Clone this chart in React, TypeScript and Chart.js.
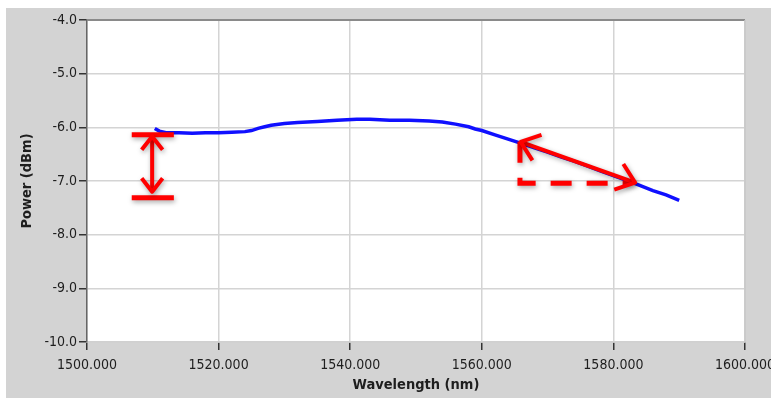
import React, { useEffect, useRef } from "react";
import { Chart, registerables } from "chart.js";

Chart.register(...registerables);

// Measured spectrum (wavelength nm, power dBm)
const wavelengths = [
  1510.3, 1511, 1512, 1514, 1516, 1518, 1520, 1522, 1524, 1525, 1526, 1527, 1528, 1530, 1532,
  1535, 1538, 1541, 1543, 1546, 1549, 1552, 1554, 1556, 1558, 1559, 1560, 1562, 1564, 1566,
  1568, 1570, 1572, 1574, 1576, 1578, 1580, 1582, 1584, 1586, 1588, 1590,
];
const powers = [
  -6.02, -6.07, -6.1, -6.1, -6.11, -6.1, -6.1, -6.09, -6.08, -6.06, -6.02, -5.99, -5.96, -5.93, -5.91,
  -5.89, -5.87, -5.85, -5.85, -5.87, -5.87, -5.88, -5.9, -5.94, -5.99, -6.03, -6.06, -6.14, -6.22, -6.3,
  -6.38, -6.46, -6.55, -6.63, -6.72, -6.81, -6.9, -6.99, -7.08, -7.18, -7.26, -7.36,
];

// Axis ticks
const xTicks = [1500, 1520, 1540, 1560, 1580, 1600];
const yTicks = [-10, -9, -8, -7, -6, -5, -4];

// Red annotations in data coordinates
const barLeft = 1506.8;
const barRight = 1513.2;
const barLevels = [-6.14, -7.31];
const vArrowX = 1509.9;
const vArrowEnds = [-6.17, -7.2];
const dashedPath = [
  [1565.8, -6.27],
  [1565.8, -7.04],
  [1582.6, -7.04],
];
const diagArrow = [
  [1565.9, -6.27],
  [1583.3, -7.03],
];

const FONT = "'DejaVu Sans Condensed', 'DejaVu Sans', sans-serif";

function arrowHead(ctx: CanvasRenderingContext2D, tx: number, ty: number, fx: number, fy: number, len: number) {
  const ang = Math.atan2(ty - fy, tx - fx);
  const spread = (38 * Math.PI) / 180;
  const a1 = ang + Math.PI - spread;
  const a2 = ang + Math.PI + spread;
  ctx.beginPath();
  ctx.moveTo(tx + Math.cos(a1) * len, ty + Math.sin(a1) * len);
  ctx.lineTo(tx, ty);
  ctx.lineTo(tx + Math.cos(a2) * len, ty + Math.sin(a2) * len);
  ctx.stroke();
}

const framePlugin = {
  id: "frame",
  beforeDraw(chart: any) {
    const { ctx, chartArea: a } = chart;
    ctx.save();
    ctx.fillStyle = "#ffffff";
    ctx.fillRect(a.left, a.top, a.right - a.left, a.bottom - a.top);
    ctx.restore();
  },
  afterDraw(chart: any) {
    const { ctx, chartArea: a } = chart;
    ctx.save();
    ctx.strokeStyle = "#8a8a8a";
    ctx.lineWidth = 2;
    ctx.beginPath();
    ctx.moveTo(a.left, a.top);
    ctx.lineTo(a.right, a.top);
    ctx.stroke();
    ctx.strokeStyle = "#c8c8c8";
    ctx.lineWidth = 1.5;
    ctx.beginPath();
    ctx.moveTo(a.right, a.top);
    ctx.lineTo(a.right, a.bottom);
    ctx.stroke();
    ctx.restore();
  },
};

const annotationPlugin = {
  id: "redMarks",
  afterDatasetsDraw(chart: any) {
    const { ctx } = chart;
    const xs = chart.scales.x;
    const ys = chart.scales.y;
    const px = (v: number) => xs.getPixelForValue(v);
    const py = (v: number) => ys.getPixelForValue(v);
    ctx.save();
    ctx.shadowColor = "rgba(0,0,0,0.35)";
    ctx.shadowBlur = 5;
    ctx.shadowOffsetX = 1;
    ctx.shadowOffsetY = 2;
    ctx.strokeStyle = "#ff0000";
    ctx.lineCap = "butt";
    ctx.lineJoin = "miter";

    // horizontal bars
    ctx.lineWidth = 5;
    for (const lv of barLevels) {
      ctx.beginPath();
      ctx.moveTo(px(barLeft), py(lv));
      ctx.lineTo(px(barRight), py(lv));
      ctx.stroke();
    }
    // vertical double arrow
    ctx.lineWidth = 4;
    const vx = px(vArrowX);
    const vy1 = py(vArrowEnds[0]);
    const vy2 = py(vArrowEnds[1]);
    ctx.beginPath();
    ctx.moveTo(vx, vy1 + 2);
    ctx.lineTo(vx, vy2 - 2);
    ctx.stroke();
    ctx.lineJoin = "round";
    arrowHead(ctx, vx, vy1, vx, vy2, 17);
    arrowHead(ctx, vx, vy2, vx, vy1, 17);

    // dashed L
    ctx.lineJoin = "miter";
    ctx.lineWidth = 5;
    ctx.setLineDash([21, 15]);
    ctx.beginPath();
    dashedPath.forEach(([x, y], i) => {
      if (i === 0) ctx.moveTo(px(x), py(y));
      else ctx.lineTo(px(x), py(y));
    });
    ctx.stroke();
    ctx.setLineDash([]);

    // diagonal double arrow
    ctx.lineWidth = 4;
    const [d1, d2] = diagArrow;
    const x1 = px(d1[0]), y1 = py(d1[1]), x2 = px(d2[0]), y2 = py(d2[1]);
    ctx.beginPath();
    ctx.moveTo(x1, y1);
    ctx.lineTo(x2, y2);
    ctx.stroke();
    ctx.lineJoin = "round";
    arrowHead(ctx, x1, y1, x2, y2, 22);
    arrowHead(ctx, x2, y2, x1, y1, 22);
    ctx.restore();
  },
};

export default function App() {
  const ref = useRef<HTMLCanvasElement>(null);
  useEffect(() => {
    if (!ref.current) return;
    const chart = new Chart(ref.current, {
      type: "line",
      data: {
        datasets: [
          {
            data: wavelengths.map((w, i) => ({ x: w, y: powers[i] })),
            borderColor: "#1010ff",
            borderWidth: 3.5,
            pointRadius: 0,
            tension: 0,
          },
        ],
      },
      options: {
        animation: false,
        responsive: false,
        maintainAspectRatio: false,
        layout: { padding: { top: 12, right: 26, left: 0, bottom: 0 } },
        plugins: { legend: { display: false }, tooltip: { enabled: false } },
        scales: {
          x: {
            type: "linear",
            min: 1500,
            max: 1600,
            afterBuildTicks: (s: any) => {
              s.ticks = xTicks.map((v) => ({ value: v }));
            },
            afterFit: (s: any) => {
              s.height = 56;
              s.paddingLeft = 0;
              s.paddingRight = 0;
            },
            ticks: {
              callback: (v: any) => Number(v).toFixed(3),
              color: "#1e1e1e",
              font: { family: FONT, size: 14 },
              padding: 7,
              maxRotation: 0,
              autoSkip: false,
            },
            grid: { color: "#d4d4d4", lineWidth: 1.5, tickColor: "#333333", tickLength: 8, tickWidth: 1.5 },
            border: { display: true, color: "#d0d0d0", width: 1.5 },
            title: {
              display: true,
              text: "Wavelength (nm)",
              color: "#1e1e1e",
              font: { family: FONT, size: 14.5, weight: "bold" },
              padding: { top: 2, bottom: 4 },
            },
          },
          y: {
            min: -10,
            max: -4,
            afterBuildTicks: (s: any) => {
              s.ticks = yTicks.map((v) => ({ value: v }));
            },
            afterFit: (s: any) => {
              s.width = 81;
              s.paddingTop = 0;
              s.paddingBottom = 0;
            },
            ticks: {
              callback: (v: any) => Number(v).toFixed(1),
              color: "#1e1e1e",
              font: { family: FONT, size: 14 },
              padding: 2,
            },
            grid: { color: "#d4d4d4", lineWidth: 1.5, tickColor: "#333333", tickLength: 8, tickWidth: 1.5 },
            border: { display: true, color: "#666666", width: 1.5 },
            title: {
              display: true,
              text: "Power (dBm)",
              color: "#1e1e1e",
              font: { family: FONT, size: 14.5, weight: "bold" },
              padding: { top: 13, bottom: 4 },
            },
          },
        },
      },
      plugins: [framePlugin, annotationPlugin],
    } as any);
    return () => chart.destroy();
  }, []);
  return (
    <div style={{ position: "fixed", left: 0, top: 0, width: 771, height: 398, background: "#ffffff", overflow: "hidden" }}>
      <canvas
        ref={ref}
        width={765}
        height={390}
        style={{ position: "absolute", left: 6, top: 8, width: 765, height: 390, background: "#d3d3d3" }}
      />
    </div>
  );
}
